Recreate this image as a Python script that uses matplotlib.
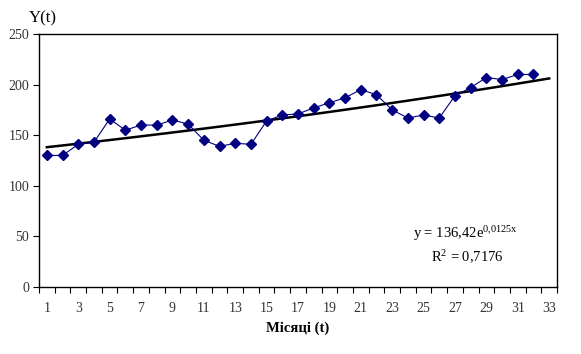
import matplotlib
matplotlib.use('Agg')
import matplotlib.pyplot as plt
import numpy as np

plt.rcParams['font.family'] = ['Liberation Serif', 'DejaVu Serif']
plt.rcParams['mathtext.default'] = 'regular'

# monthly values
months = np.arange(1, 33)
y_vals = [130, 130, 141, 143, 166, 155, 160, 160, 165, 161,
          145, 139, 142, 141, 164, 170, 171, 177, 182, 187,
          195, 190, 175, 167, 170, 167, 189, 197, 207, 205,
          210, 210]

# exponential trend y = a*e^(b*x) as printed on the chart
trend_a = 136.42
trend_b = 0.0125
trend_x = np.arange(1, 34)

x_labels = [str(i) for i in range(1, 34, 2)]

fig = plt.figure(figsize=(5.81, 3.54), dpi=100)
ax = fig.add_axes([39/581, 1 - 287/354, 518/581, 253/354])

ax.plot(months, y_vals, color='#000080', lw=0.8, marker='D', ms=5.5,
        markerfacecolor='#000080', markeredgecolor='#000080', zorder=3)
ax.plot(trend_x, trend_a*np.exp(trend_b*trend_x), color='black', lw=1.8, zorder=2)

ax.set_xlim(0.5, 33.5)
ax.set_ylim(0, 250)
ax.set_yticks(range(0, 251, 50))
ax.set_xticks(np.arange(0.5, 34, 1))
ax.set_xticklabels([])
ax.set_xticks(range(1, 34, 2), minor=True)
ax.set_xticklabels(x_labels, minor=True)
ax.tick_params(axis='x', which='major', direction='out', length=4, width=0.8)
ax.tick_params(axis='x', which='minor', length=0, pad=11, labelsize=10,
               labelcolor='#333333')
ax.tick_params(axis='y', direction='out', length=4, width=0.8, labelsize=10,
               pad=3, labelcolor='#333333')
for s in ax.spines.values():
    s.set_linewidth(1)

fig.text(29/581, 1 - 18/354, 'Y(t)', fontsize=12, ha='left', va='center')
fig.text(298/581, 1 - 328/354, 'Місяці (t)', fontsize=10.5, fontweight='bold',
         ha='center', va='center')

ax.text(24.3, 48, 'y = 136,42e$^{0{,}0125x}$', fontsize=10.5)
ax.text(25.5, 25, 'R$^{2}$ = 0,7176', fontsize=10.5)

fig.savefig('out.png', dpi=100)
